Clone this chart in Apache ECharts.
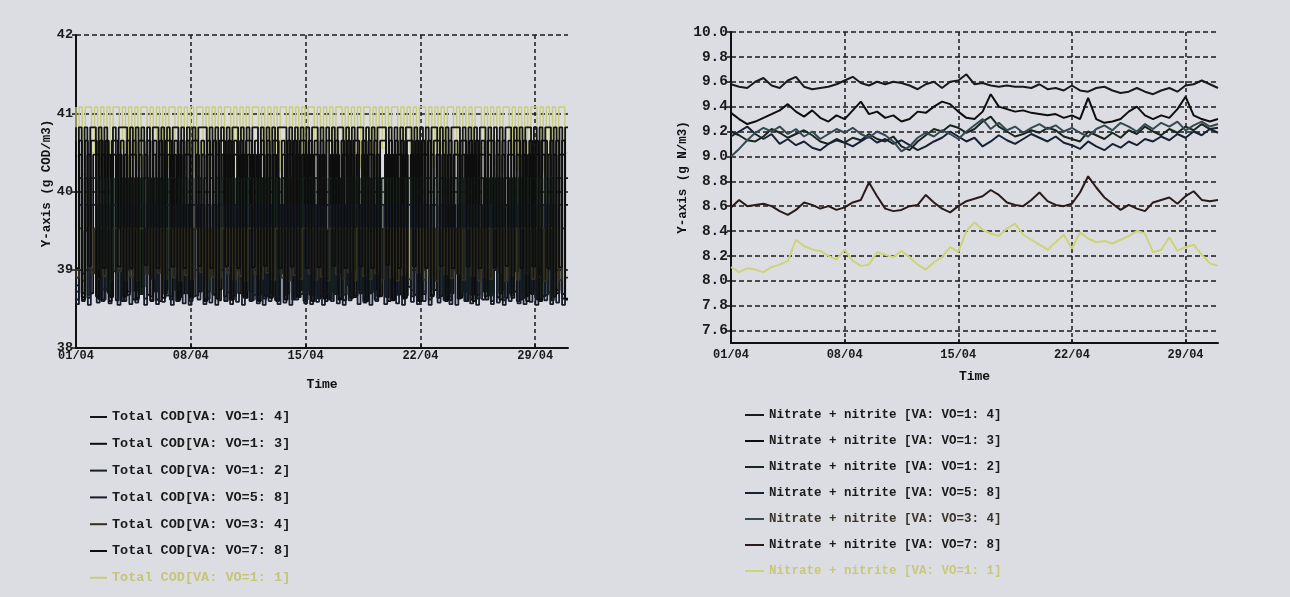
<!DOCTYPE html>
<html><head><meta charset="utf-8">
<script src="https://cdn.jsdelivr.net/npm/echarts@6/dist/echarts.min.js"></script>
<style>html,body{margin:0;padding:0;background:#dcdde2;}#c{width:1290px;height:597px;}</style>
</head><body><div id="c"></div>
<script>
// ---- axis ticks / labels ----
const dayTicks = [0, 7, 14, 21, 28];
const dayLabels = ['01/04', '08/04', '15/04', '22/04', '29/04'];
const codTicks = [38, 39, 40, 41, 42];
const nTicks = [7.6, 7.8, 8.0, 8.2, 8.4, 8.6, 8.8, 9.0, 9.2, 9.4, 9.6, 9.8, 10.0];
const ratios = ['1: 4', '1: 3', '1: 2', '5: 8', '3: 4', '7: 8', '1: 1'];
const codNames = ratios.map(r => 'Total COD[VA: VO=' + r + ']');
const nNames = ratios.map(r => 'Nitrate + nitrite [VA: VO=' + r + ']');

// ---- Total COD (g COD/m3), sampled evenly over 01/04 - 01/05 ----
const cod14 = [40.82,38.62,40.82,38.70,40.82,38.64,40.82,40.82,38.66,40.82,38.60,40.82,38.72,38.65,40.82,38.61,40.82,40.82,40.82,38.68,40.82,38.62,40.82,38.70,40.82,38.63,40.82,38.66,40.82,40.82,38.60,40.82,38.69,40.82,38.62,40.82,40.82,38.65,40.82,38.71,40.82,38.60,40.82,38.67,40.82,40.82,40.82,38.63,40.82,38.69,40.82,38.61,40.82,38.66,40.82,38.62,40.82,40.82,38.70,40.82,38.64,40.82,38.60,40.82,40.82,38.68,40.82,38.63,40.82,38.66,40.82,38.61,40.82,40.82,40.82,38.70,40.82,38.62,40.82,38.65,40.82,38.60,40.82,38.68,40.82,40.82,38.63,40.82,38.66,40.82,38.62,40.82,38.69,40.82,40.82,38.61,40.82,38.64,40.82,38.67,40.82,40.82,38.60,40.82,38.70,40.82,38.62,40.82,40.82,40.82,38.65,40.82,38.61,40.82,38.68,40.82,38.63,40.82,40.82,38.66,40.82,38.60,40.82,38.69,40.82,38.62,40.82,40.82,38.64,40.82,38.71,40.82,38.61,40.82,40.82,40.82,38.66,40.82,38.60,40.82,38.68,40.82,38.63,40.82,40.82,38.62,40.82,38.70,40.82,38.65,40.82,38.61,40.82,40.82,38.67,40.82,38.60,40.82,38.64,40.82,40.82,38.69,40.82,38.62,40.82,38.66,40.82,40.82,38.61,40.82,38.70,40.82,38.63,40.82];
const cod13 = [40.47,38.80,40.47,38.65,39.50,40.47,38.70,40.47,40.47,38.62,40.47,38.75,40.47,38.66,40.47,39.52,40.47,38.60,40.47,38.72,40.47,40.47,38.64,40.47,38.78,40.47,38.68,39.50,40.47,38.62,40.47,40.47,38.74,40.47,38.66,40.47,38.60,40.47,38.70,40.47,40.47,38.64,39.52,40.47,38.72,40.47,38.62,40.47,40.47,38.68,40.47,38.75,40.47,38.60,40.47,38.70,40.47,40.47,39.50,40.47,38.64,40.47,38.72,40.47,38.62,40.47,40.47,38.66,40.47,38.70,40.47,38.60,39.52,40.47,38.68,40.47,40.47,38.64,40.47,38.74,40.47,38.62,40.47,38.70,40.47,40.47,38.66,40.47,38.60,39.50,40.47,38.72,40.47,38.64,40.47,40.47,38.80,40.47,38.65,40.47,38.70,40.47,38.62,40.47,40.47,38.75,40.47,38.66,39.52,40.47,38.60,40.47,38.72,40.47,40.47,38.64,40.47,38.78,40.47,38.68,40.47,38.62,40.47,40.47,39.50,40.47,38.74,40.47,38.66,40.47,38.60,40.47,38.70,40.47,40.47,38.64,40.47,38.72,40.47,38.62,40.47,38.68,40.47,40.47,38.75,40.47,38.60,39.52,40.47,38.70,40.47,38.64,40.47,40.47,38.72,40.47,38.62,40.47,38.66,40.47,38.70,40.47,40.47,38.60,40.47,38.68,40.47,38.64,40.47,38.74,40.47,40.47,38.62];
const cod12 = [40.17,38.72,40.17,38.95,40.17,38.68,40.17,40.17,39.02,40.17,38.75,40.17,38.70,40.17,38.98,40.17,40.17,38.66,40.17,39.00,40.17,38.73,40.17,38.69,40.17,40.17,38.96,40.17,38.72,40.17,39.01,40.17,38.67,40.17,40.17,38.74,40.17,38.98,40.17,38.70,40.17,38.66,40.17,40.17,39.00,40.17,38.72,40.17,38.69,40.17,38.97,40.17,40.17,38.71,40.17,38.67,40.17,39.02,40.17,38.73,40.17,40.17,38.68,40.17,38.99,40.17,38.70,40.17,40.17,38.66,40.17,38.95,40.17,38.72,40.17,39.01,40.17,40.17,38.69,40.17,38.74,40.17,38.67,40.17,38.98,40.17,40.17,38.70,40.17,38.72,40.17,38.96,40.17,38.68,40.17,40.17,39.00,40.17,38.73,40.17,38.66,40.17,38.71,40.17,40.17,38.97,40.17,38.69,40.17,39.02,40.17,38.70,40.17,40.17,38.67,40.17,38.74,40.17,38.95,40.17,38.72,40.17,40.17,38.68,40.17,39.01,40.17,38.70,40.17,38.66,40.17,40.17,38.99,40.17,38.73,40.17,38.69,40.17,38.96,40.17,40.17,38.72,40.17,38.67,40.17,39.00,40.17,38.74,40.17,40.17,38.70,40.17,38.98,40.17,38.68,40.17,38.72,40.17,40.17,39.02,40.17,38.66,40.17,38.71,40.17,38.97,40.17,40.17,38.69,40.17];
const cod58 = [39.83,38.56,39.83,38.60,39.83,38.55,39.83,39.83,38.58,39.83,38.62,39.83,38.57,39.83,39.83,38.55,39.83,38.60,39.83,38.56,39.83,38.58,39.83,39.83,38.55,39.83,38.61,39.83,38.56,39.83,38.59,39.83,39.83,38.55,39.83,38.60,39.83,38.57,39.83,38.55,39.83,39.83,38.62,39.83,38.56,39.83,38.58,39.83,38.55,39.83,39.83,38.60,39.83,38.56,39.83,38.59,39.83,38.55,39.83,39.83,38.61,39.83,38.57,39.83,38.55,39.83,38.60,39.83,39.83,38.56,39.83,38.58,39.83,38.55,39.83,38.62,39.83,39.83,38.57,39.83,38.56,39.83,38.59,39.83,38.55,39.83,39.83,38.60,39.83,38.57,39.83,38.55,39.83,38.61,39.83,39.83,38.56,39.83,38.58,39.83,38.55,39.83,38.60,39.83,39.83,38.56,39.83,38.62,39.83,38.57,39.83,38.55,39.83,39.83,38.59,39.83,38.56,39.83,38.60,39.83,38.55,39.83,39.83,38.58,39.83,38.61,39.83,38.56,39.83,38.55,39.83,39.83,38.60,39.83,38.57,39.83,38.55,39.83,38.62,39.83,39.83,38.56,39.83,38.58,39.83,38.55,39.83,38.60,39.83,39.83,38.57,39.83,38.56,39.83,38.59,39.83,38.55,39.83,39.83,38.61,39.83,38.56,39.83,38.58,39.83,38.55,39.83];
const cod34 = [39.53,38.90,39.53,38.86,39.53,39.53,38.95,39.53,38.88,39.53,38.92,39.53,38.86,39.53,39.53,38.98,39.53,38.87,39.53,38.91,39.53,38.86,39.53,39.53,38.94,39.53,38.88,39.53,38.96,39.53,38.87,39.53,39.53,38.90,39.53,38.86,39.53,38.93,39.53,38.88,39.53,39.53,38.97,39.53,38.86,39.53,38.91,39.53,38.89,39.53,39.53,38.95,39.53,38.87,39.53,38.92,39.53,38.86,39.53,39.53,38.94,39.53,38.88,39.53,38.96,39.53,38.87,39.53,39.53,38.90,39.53,38.86,39.53,38.93,39.53,38.88,39.53,39.53,38.95,39.53,38.87,39.53,38.91,39.53,38.86,39.53,39.53,38.94,39.53,38.89,39.53,38.97,39.53,38.86,39.53,39.53,38.92,39.53,38.88,39.53,38.95,39.53,38.87,39.53,39.53,38.90,39.53,38.86,39.53,38.93,39.53,38.88,39.53,39.53,38.96,39.53,38.87,39.53,38.91,39.53,38.86,39.53,39.53,38.94,39.53,38.89,39.53,38.95,39.53,38.87,39.53,39.53,38.92,39.53,38.86,39.53,38.90,39.53,38.88,39.53,39.53,38.97,39.53,38.86,39.53,38.93,39.53,38.87,39.53,39.53,38.95,39.53,38.88,39.53,38.91,39.53,38.86,39.53,39.53,38.94,39.53,38.87,39.53,38.90];
const cod78 = [40.65,39.02,40.65,38.62,40.65,39.05,40.65,40.65,38.64,40.65,39.02,40.65,38.60,40.65,40.65,39.04,40.65,38.66,40.65,39.02,40.65,38.62,40.65,40.65,39.06,40.65,38.60,40.65,39.02,40.65,38.64,40.65,40.65,39.04,40.65,38.62,40.65,39.02,40.65,38.66,40.65,40.65,39.05,40.65,38.60,40.65,39.02,40.65,38.63,40.65,40.65,39.04,40.65,38.62,40.65,39.02,40.65,38.66,40.65,40.65,39.03,40.65,38.60,40.65,39.05,40.65,38.64,40.65,40.65,39.02,40.65,38.62,40.65,39.04,40.65,38.66,40.65,40.65,39.02,40.65,38.60,40.65,39.03,40.65,38.63,40.65,40.65,39.05,40.65,38.62,40.65,39.02,40.65,38.64,40.65,40.65,39.04,40.65,38.60,40.65,39.02,40.65,38.66,40.65,40.65,39.06,40.65,38.62,40.65,39.02,40.65,38.64,40.65,40.65,39.04,40.65,38.60,40.65,39.02,40.65,38.66,40.65,40.65,39.05,40.65,38.62,40.65,39.02,40.65,38.63,40.65,40.65,39.04,40.65,38.60,40.65,39.02,40.65,38.66,40.65,40.65,39.03,40.65,38.62,40.65,39.05,40.65,38.64,40.65,40.65,39.02,40.65,38.60,40.65,39.04,40.65,38.62,40.65,40.65,39.02,40.65,38.66,40.65,39.03,40.65,38.63];
const cod11 = [41.08,40.45,41.08,40.22,41.08,41.08,40.50,41.08,40.30,41.08,40.48,41.08,40.25,41.08,41.08,40.55,41.08,40.20,41.08,40.42,41.08,40.28,41.08,41.08,40.50,41.08,40.23,41.08,40.46,41.08,40.32,41.08,41.08,40.52,41.08,40.21,41.08,40.48,41.08,40.26,41.08,41.08,40.44,41.08,40.22,41.08,40.55,41.08,40.30,41.08,41.08,40.47,41.08,40.24,41.08,40.50,41.08,40.28,41.08,41.08,40.45,41.08,40.21,41.08,40.52,41.08,40.26,41.08,41.08,40.44,41.08,40.22,41.08,40.49,41.08,40.30,41.08,41.08,40.46,41.08,40.24,41.08,40.52,41.08,40.27,41.08,41.08,40.45,41.08,40.22,41.08,40.50,41.08,40.30,41.08,41.08,40.48,41.08,40.25,41.08,40.55,41.08,40.20,41.08,41.08,40.42,41.08,40.28,41.08,40.50,41.08,40.23,41.08,41.08,40.46,41.08,40.32,41.08,40.52,41.08,40.21,41.08,41.08,40.48,41.08,40.26,41.08,40.44,41.08,40.22,41.08,41.08,40.55,41.08,40.30,41.08,40.47,41.08,40.24,41.08,41.08,40.50,41.08,40.28,41.08,40.45,41.08,40.21,41.08,41.08,40.52,41.08,40.26,41.08,40.44,41.08,40.22,41.08,41.08,40.49];

// ---- Nitrate + nitrite (g N/m3), every half day 01/04 - 01/05 ----
const n14 = [9.58,9.56,9.55,9.60,9.63,9.57,9.55,9.61,9.64,9.56,9.54,9.55,9.56,9.58,9.61,9.64,9.59,9.57,9.60,9.58,9.60,9.59,9.57,9.54,9.58,9.60,9.55,9.60,9.61,9.66,9.58,9.59,9.57,9.56,9.57,9.56,9.56,9.55,9.58,9.54,9.55,9.53,9.57,9.53,9.52,9.55,9.56,9.53,9.51,9.52,9.55,9.52,9.50,9.53,9.55,9.52,9.57,9.58,9.61,9.58,9.55];
const n13 = [9.35,9.30,9.26,9.28,9.31,9.34,9.37,9.42,9.36,9.32,9.37,9.31,9.28,9.33,9.30,9.37,9.44,9.34,9.36,9.31,9.33,9.28,9.30,9.36,9.35,9.40,9.44,9.42,9.36,9.31,9.30,9.36,9.50,9.40,9.38,9.36,9.37,9.35,9.34,9.33,9.34,9.31,9.33,9.30,9.47,9.30,9.27,9.28,9.30,9.36,9.40,9.33,9.30,9.33,9.31,9.38,9.48,9.33,9.30,9.28,9.30];
const n12 = [9.20,9.17,9.13,9.12,9.16,9.22,9.19,9.15,9.18,9.21,9.17,9.12,9.10,9.13,9.11,9.15,9.13,9.18,9.14,9.12,9.16,9.08,9.05,9.12,9.17,9.22,9.20,9.25,9.23,9.19,9.22,9.28,9.32,9.24,9.20,9.16,9.18,9.21,9.19,9.23,9.21,9.16,9.14,9.12,9.20,9.17,9.14,9.19,9.15,9.21,9.18,9.24,9.20,9.17,9.22,9.19,9.24,9.21,9.26,9.22,9.23];
const n58 = [9.16,9.20,9.24,9.18,9.14,9.18,9.10,9.14,9.09,9.12,9.07,9.05,9.10,9.14,9.11,9.08,9.12,9.16,9.11,9.14,9.10,9.13,9.09,9.05,9.08,9.12,9.15,9.20,9.16,9.12,9.15,9.08,9.12,9.17,9.13,9.10,9.14,9.18,9.15,9.12,9.16,9.11,9.09,9.06,9.12,9.08,9.05,9.10,9.07,9.12,9.09,9.14,9.12,9.16,9.13,9.18,9.15,9.20,9.17,9.22,9.19];
const n34 = [9.00,9.06,9.13,9.19,9.23,9.20,9.24,9.18,9.22,9.16,9.20,9.14,9.18,9.22,9.19,9.23,9.18,9.15,9.20,9.17,9.12,9.04,9.08,9.15,9.19,9.16,9.21,9.18,9.14,9.20,9.25,9.30,9.22,9.27,9.21,9.24,9.19,9.23,9.26,9.22,9.25,9.20,9.23,9.19,9.16,9.22,9.25,9.21,9.27,9.24,9.20,9.26,9.22,9.27,9.24,9.28,9.21,9.25,9.28,9.24,9.26];
const n78 = [8.59,8.65,8.60,8.61,8.62,8.60,8.56,8.53,8.57,8.63,8.61,8.58,8.60,8.57,8.59,8.63,8.65,8.79,8.68,8.58,8.56,8.57,8.60,8.61,8.69,8.63,8.58,8.55,8.60,8.64,8.66,8.68,8.73,8.69,8.63,8.61,8.60,8.65,8.71,8.64,8.61,8.60,8.62,8.71,8.84,8.75,8.67,8.62,8.57,8.61,8.58,8.56,8.63,8.65,8.67,8.62,8.68,8.72,8.65,8.64,8.65];
const n11 = [8.11,8.07,8.10,8.09,8.07,8.11,8.13,8.16,8.33,8.28,8.25,8.24,8.20,8.17,8.25,8.16,8.12,8.13,8.23,8.21,8.19,8.24,8.19,8.13,8.09,8.15,8.19,8.27,8.23,8.40,8.47,8.41,8.38,8.36,8.42,8.46,8.37,8.33,8.29,8.25,8.31,8.37,8.26,8.39,8.34,8.31,8.32,8.30,8.33,8.36,8.40,8.38,8.23,8.25,8.35,8.24,8.27,8.29,8.21,8.14,8.12];

const codData = [cod14, cod13, cod12, cod58, cod34, cod78, cod11];
const nData = [n14, n13, n12, n58, n34, n78, n11];
const codColors = ['#141414', '#0c0c0c', '#15221a', '#161c2a', '#33301f', '#0e0e0e', '#c9cd7a'];
const nColors = ['#1a1a1a', '#0e0e0e', '#18261f', '#172234', '#364a52', '#2a1a1a', '#cdd477'];

const F = '"Liberation Mono","DejaVu Sans Mono",monospace';
const toPairs = arr => arr.map((v, i) => [i * 30 / (arr.length - 1), v]);

function xAxisCfg(gi, gap, lblMargin) {
  return {
    type: 'value', gridIndex: gi, min: 0, max: 30,
    name: 'Time', nameLocation: 'middle', nameGap: gap,
    nameTextStyle: { fontFamily: F, fontWeight: 'bold', fontSize: 13, color: '#111' },
    axisLine: { show: true, onZero: false, lineStyle: { color: '#111', width: 2 } },
    axisTick: { show: true, inside: true, length: 4, customValues: dayTicks, lineStyle: { color: '#111', width: 1.5 } },
    axisLabel: { customValues: dayTicks, margin: lblMargin, fontFamily: F, fontWeight: 'bold', fontSize: 12, color: '#1a1a1a',
      formatter: v => { const k = dayTicks.indexOf(v); return k >= 0 ? dayLabels[k] : ''; } },
    splitLine: { show: true, lineStyle: { color: '#1a1a1a', width: 1.5, type: [4, 3] } }
  };
}
function yAxisCfg(gi, mn, mx, ticks, name, gap, fs, fmt, shift) {
  return {
    type: 'value', gridIndex: gi, min: mn, max: mx,
    name: name, nameLocation: 'middle', nameGap: gap, nameRotate: 90,
    nameTextStyle: { fontFamily: F, fontWeight: 'bold', fontSize: 12.5, color: '#111', padding: [0, 0, 0, shift] },
    axisLine: { show: true, lineStyle: { color: '#111', width: 2 } },
    axisTick: { show: true, length: 4, customValues: ticks, lineStyle: { color: '#111', width: 1.5 } },
    axisLabel: { customValues: ticks, margin: 3, fontFamily: F, fontWeight: 'bold', fontSize: fs, color: '#1a1a1a', formatter: fmt },
    splitLine: { show: true, lineStyle: { color: '#1a1a1a', width: 1.5, type: [5, 3] } }
  };
}

const series = [];
codData.forEach((arr, i) => series.push({
  name: codNames[i], type: 'line', xAxisIndex: 0, yAxisIndex: 0, step: 'start', showSymbol: false, symbol: 'none',
  z: i === 6 ? 1 : 3, data: toPairs(arr),
  lineStyle: { color: codColors[i], width: i === 6 ? 1.4 : 1.8 }, itemStyle: { color: codColors[i] }
}));
nData.forEach((arr, i) => series.push({
  name: nNames[i], type: 'line', xAxisIndex: 1, yAxisIndex: 1, showSymbol: false, symbol: 'none',
  data: toPairs(arr),
  lineStyle: { color: nColors[i], width: 2 }, itemStyle: { color: nColors[i] }
}));

const chart = echarts.init(document.getElementById('c'), null, { renderer: 'canvas' });
chart.setOption({
  animation: false,
  backgroundColor: '#dcdde2',
  grid: [
    { left: 76, top: 35, width: 492, height: 313 },
    { left: 731, top: 32, width: 487, height: 311 }
  ],
  xAxis: [xAxisCfg(0, 30, 2), xAxisCfg(1, 27, 6)],
  yAxis: [
    yAxisCfg(0, 38, 42, codTicks, 'Y-axis (g COD/m3)', 22, 13.5, v => String(v), 16),
    yAxisCfg(1, 7.5, 10.0, nTicks, 'Y-axis (g N/m3)', 37, 14.5, v => v.toFixed(1), 20)
  ],
  legend: [
    { orient: 'vertical', left: 85, top: 405, itemGap: 12.8, itemWidth: 17, itemHeight: 2, icon: 'rect', selectedMode: false,
      textStyle: { fontFamily: F, fontWeight: 'bold', fontSize: 13.5, lineHeight: 14, color: '#1a1a1a' },
      data: codNames.map((n, i) => ({ name: n, textStyle: i === 6 ? { color: '#c4c47a' } : {} })) },
    { orient: 'vertical', left: 740, top: 403, itemGap: 12, itemWidth: 19, itemHeight: 2, icon: 'rect', selectedMode: false,
      textStyle: { fontFamily: F, fontWeight: 'bold', fontSize: 12.5, lineHeight: 14, color: '#1a1a1a' },
      data: nNames.map((n, i) => ({ name: n, textStyle: i === 6 ? { color: '#c8c87c' } : (i === 4 ? { color: '#3a3428' } : {}) })) }
  ],
  series: series
});
</script></body></html>
